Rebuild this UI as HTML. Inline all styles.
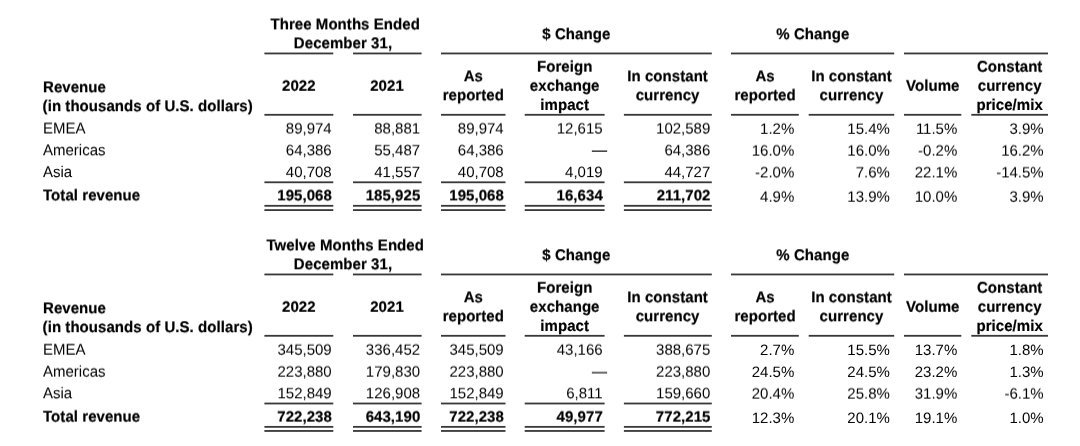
<!DOCTYPE html>
<html lang="en"><head><meta charset="utf-8"><title>Revenue</title>
<style>
html,body{margin:0;padding:0;background:#fff;}
body{width:1080px;height:446px;overflow:hidden;position:relative;
 font-family:"Liberation Sans",Arial,Helvetica,sans-serif;font-size:15px;line-height:20px;color:#000;
 text-rendering:geometricPrecision;}
svg{position:absolute;left:0;top:0;display:block;}
rect{fill:#383838;}
.row{position:absolute;left:0;width:1080px;height:20px;white-space:nowrap;will-change:transform;}
.row span{position:absolute;top:0;height:20px;transform-origin:0 14px;transform:scaleY(1.04);}
.b,.b span{font-weight:bold;-webkit-text-stroke:0.2px #000;letter-spacing:0.06px;}
.row span.n{transform:none;}
.d{-webkit-text-stroke:0.3px #111;color:#111;}
.l{text-align:left;}
.c{width:300px;text-align:center;}
.r{width:300px;text-align:right;}
</style></head><body>
<svg width="1080" height="446" viewBox="0 0 1080 446">
<rect x="264.40" y="52.55" width="68.90" height="1.8"/>
<rect x="353.00" y="52.55" width="68.60" height="1.8"/>
<rect x="441.00" y="52.55" width="270.80" height="1.8"/>
<rect x="731.00" y="52.55" width="163.20" height="1.8"/>
<rect x="904.00" y="52.55" width="144.00" height="1.8"/>
<rect x="264.40" y="113.90" width="68.90" height="1.8"/>
<rect x="353.00" y="113.90" width="68.60" height="1.8"/>
<rect x="441.00" y="113.90" width="64.50" height="1.8"/>
<rect x="524.70" y="113.90" width="79.90" height="1.8"/>
<rect x="623.90" y="113.90" width="87.90" height="1.8"/>
<rect x="731.00" y="113.90" width="67.80" height="1.8"/>
<rect x="808.70" y="113.90" width="85.50" height="1.8"/>
<rect x="904.00" y="113.90" width="57.30" height="1.8"/>
<rect x="971.30" y="113.90" width="76.70" height="1.8"/>
<rect x="264.40" y="181.40" width="68.90" height="1.8"/>
<rect x="264.40" y="204.90" width="68.90" height="1.8"/>
<rect x="264.40" y="209.20" width="68.90" height="1.8"/>
<rect x="353.00" y="181.40" width="68.60" height="1.8"/>
<rect x="353.00" y="204.90" width="68.60" height="1.8"/>
<rect x="353.00" y="209.20" width="68.60" height="1.8"/>
<rect x="441.00" y="181.40" width="64.50" height="1.8"/>
<rect x="441.00" y="204.90" width="64.50" height="1.8"/>
<rect x="441.00" y="209.20" width="64.50" height="1.8"/>
<rect x="524.70" y="181.40" width="79.90" height="1.8"/>
<rect x="524.70" y="204.90" width="79.90" height="1.8"/>
<rect x="524.70" y="209.20" width="79.90" height="1.8"/>
<rect x="623.90" y="181.40" width="87.90" height="1.8"/>
<rect x="623.90" y="204.90" width="87.90" height="1.8"/>
<rect x="623.90" y="209.20" width="87.90" height="1.8"/>
<rect x="264.40" y="273.55" width="68.90" height="1.8"/>
<rect x="353.00" y="273.55" width="68.60" height="1.8"/>
<rect x="441.00" y="273.55" width="270.80" height="1.8"/>
<rect x="731.00" y="273.55" width="163.20" height="1.8"/>
<rect x="904.00" y="273.55" width="144.00" height="1.8"/>
<rect x="264.40" y="334.90" width="68.90" height="1.8"/>
<rect x="353.00" y="334.90" width="68.60" height="1.8"/>
<rect x="441.00" y="334.90" width="64.50" height="1.8"/>
<rect x="524.70" y="334.90" width="79.90" height="1.8"/>
<rect x="623.90" y="334.90" width="87.90" height="1.8"/>
<rect x="731.00" y="334.90" width="67.80" height="1.8"/>
<rect x="808.70" y="334.90" width="85.50" height="1.8"/>
<rect x="904.00" y="334.90" width="57.30" height="1.8"/>
<rect x="971.30" y="334.90" width="76.70" height="1.8"/>
<rect x="264.40" y="402.60" width="68.90" height="1.8"/>
<rect x="264.40" y="425.95" width="68.90" height="1.8"/>
<rect x="264.40" y="430.05" width="68.90" height="1.8"/>
<rect x="353.00" y="402.60" width="68.60" height="1.8"/>
<rect x="353.00" y="425.95" width="68.60" height="1.8"/>
<rect x="353.00" y="430.05" width="68.60" height="1.8"/>
<rect x="441.00" y="402.60" width="64.50" height="1.8"/>
<rect x="441.00" y="425.95" width="64.50" height="1.8"/>
<rect x="441.00" y="430.05" width="64.50" height="1.8"/>
<rect x="524.70" y="402.60" width="79.90" height="1.8"/>
<rect x="524.70" y="425.95" width="79.90" height="1.8"/>
<rect x="524.70" y="430.05" width="79.90" height="1.8"/>
<rect x="623.90" y="402.60" width="87.90" height="1.8"/>
<rect x="623.90" y="425.95" width="87.90" height="1.8"/>
<rect x="623.90" y="430.05" width="87.90" height="1.8"/>
</svg>
<div class="row b" style="top:15px;transform:translateY(0.40px) rotate(.001deg)">
<span class="c" style="left:195.20px">Three Months Ended</span>
</div>
<div class="row b" style="top:25px;transform:translateY(0.20px) rotate(.001deg)">
<span class="c" style="left:426.30px">$ Change</span>
<span class="c" style="left:662.80px">% Change</span>
</div>
<div class="row b" style="top:34px;transform:translateY(0.30px) rotate(.001deg)">
<span class="c" style="left:193.00px">December 31,</span>
</div>
<div class="row b" style="top:57px;transform:translateY(0.70px) rotate(.001deg)">
<span class="c" style="left:414.70px">Foreign</span>
<span class="c" style="left:859.70px">Constant</span>
</div>
<div class="row b" style="top:67px;transform:translateY(0.30px) rotate(.001deg)">
<span class="c" style="left:323.30px">As</span>
<span class="c" style="left:517.60px">In constant</span>
<span class="c" style="left:615.10px">As</span>
<span class="c" style="left:701.50px">In constant</span>
</div>
<div class="row b" style="top:76px;transform:translateY(0.80px) rotate(.001deg)">
<span class="c n" style="left:148.80px">2022</span>
<span class="c n" style="left:237.00px">2021</span>
<span class="c" style="left:414.70px">exchange</span>
<span class="c" style="left:782.80px">Volume</span>
<span class="c" style="left:859.70px">currency</span>
</div>
<div class="row b" style="top:78px;transform:translateY(0.30px) rotate(.001deg)">
<span class="l" style="left:43.00px">Revenue</span>
</div>
<div class="row b" style="top:86px;transform:translateY(0.30px) rotate(.001deg)">
<span class="c" style="left:323.30px">reported</span>
<span class="c" style="left:517.60px">currency</span>
<span class="c" style="left:615.10px">reported</span>
<span class="c" style="left:701.50px">currency</span>
</div>
<div class="row b" style="top:96px;transform:translateY(0.00px) rotate(.001deg)">
<span class="c" style="left:414.70px">impact</span>
<span class="c" style="left:859.70px">price/mix</span>
</div>
<div class="row b" style="top:97px;transform:translateY(0.20px) rotate(.001deg)">
<span class="l" style="left:42.60px">(in thousands of U.S. dollars)</span>
</div>
<div class="row" style="top:119px;transform:translateY(0.50px) rotate(.001deg)">
<span class="l" style="left:43.00px">EMEA</span>
<span class="r n" style="left:31.70px">89,974</span>
<span class="r n" style="left:120.10px">88,881</span>
<span class="r n" style="left:203.70px">89,974</span>
<span class="r n" style="left:302.60px">12,615</span>
<span class="r n" style="left:410.30px">102,589</span>
</div>
<div class="row" style="top:119px;transform:translateY(0.80px) rotate(.001deg)">
<span class="r n" style="left:494.30px">1.2%</span>
<span class="r n" style="left:589.90px">15.4%</span>
<span class="r n" style="left:657.30px">11.5%</span>
<span class="r n" style="left:743.70px">3.9%</span>
</div>
<div class="row" style="top:141px;transform:translateY(0.00px) rotate(.001deg)">
<span class="r d n" style="left:307.10px">—</span>
</div>
<div class="row" style="top:141px;transform:translateY(0.30px) rotate(.001deg)">
<span class="l" style="left:43.00px">Americas</span>
<span class="r n" style="left:31.70px">64,386</span>
<span class="r n" style="left:120.10px">55,487</span>
<span class="r n" style="left:203.70px">64,386</span>
<span class="r n" style="left:410.30px">64,386</span>
</div>
<div class="row" style="top:141px;transform:translateY(0.60px) rotate(.001deg)">
<span class="r n" style="left:494.30px">16.0%</span>
<span class="r n" style="left:589.90px">16.0%</span>
<span class="r n" style="left:657.30px">-0.2%</span>
<span class="r n" style="left:743.70px">16.2%</span>
</div>
<div class="row" style="top:163px;transform:translateY(0.10px) rotate(.001deg)">
<span class="l" style="left:43.00px">Asia</span>
<span class="r n" style="left:31.70px">40,708</span>
<span class="r n" style="left:120.10px">41,557</span>
<span class="r n" style="left:203.70px">40,708</span>
<span class="r n" style="left:302.60px">4,019</span>
<span class="r n" style="left:410.30px">44,727</span>
</div>
<div class="row" style="top:163px;transform:translateY(0.40px) rotate(.001deg)">
<span class="r n" style="left:494.30px">-2.0%</span>
<span class="r n" style="left:589.90px">7.6%</span>
<span class="r n" style="left:657.30px">22.1%</span>
<span class="r n" style="left:743.70px">-14.5%</span>
</div>
<div class="row b" style="top:186px;transform:translateY(0.40px) rotate(.001deg)">
<span class="l" style="left:43.00px">Total revenue</span>
<span class="r n" style="left:31.90px">195,068</span>
<span class="r n" style="left:120.30px">185,925</span>
<span class="r n" style="left:203.90px">195,068</span>
<span class="r n" style="left:302.80px">16,634</span>
<span class="r n" style="left:410.50px">211,702</span>
</div>
<div class="row" style="top:187px;transform:translateY(0.70px) rotate(.001deg)">
<span class="r n" style="left:494.30px">4.9%</span>
<span class="r n" style="left:589.90px">13.9%</span>
<span class="r n" style="left:657.30px">10.0%</span>
<span class="r n" style="left:743.70px">3.9%</span>
</div>
<div class="row b" style="top:236px;transform:translateY(0.40px) rotate(.001deg)">
<span class="c" style="left:195.20px">Twelve Months Ended</span>
</div>
<div class="row b" style="top:246px;transform:translateY(0.20px) rotate(.001deg)">
<span class="c" style="left:426.30px">$ Change</span>
<span class="c" style="left:662.80px">% Change</span>
</div>
<div class="row b" style="top:255px;transform:translateY(0.30px) rotate(.001deg)">
<span class="c" style="left:193.00px">December 31,</span>
</div>
<div class="row b" style="top:278px;transform:translateY(0.70px) rotate(.001deg)">
<span class="c" style="left:414.70px">Foreign</span>
<span class="c" style="left:859.70px">Constant</span>
</div>
<div class="row b" style="top:288px;transform:translateY(0.30px) rotate(.001deg)">
<span class="c" style="left:323.30px">As</span>
<span class="c" style="left:517.60px">In constant</span>
<span class="c" style="left:615.10px">As</span>
<span class="c" style="left:701.50px">In constant</span>
</div>
<div class="row b" style="top:297px;transform:translateY(0.80px) rotate(.001deg)">
<span class="c n" style="left:148.80px">2022</span>
<span class="c n" style="left:237.00px">2021</span>
<span class="c" style="left:414.70px">exchange</span>
<span class="c" style="left:782.80px">Volume</span>
<span class="c" style="left:859.70px">currency</span>
</div>
<div class="row b" style="top:299px;transform:translateY(0.30px) rotate(.001deg)">
<span class="l" style="left:43.00px">Revenue</span>
</div>
<div class="row b" style="top:307px;transform:translateY(0.30px) rotate(.001deg)">
<span class="c" style="left:323.30px">reported</span>
<span class="c" style="left:517.60px">currency</span>
<span class="c" style="left:615.10px">reported</span>
<span class="c" style="left:701.50px">currency</span>
</div>
<div class="row b" style="top:317px;transform:translateY(0.00px) rotate(.001deg)">
<span class="c" style="left:414.70px">impact</span>
<span class="c" style="left:859.70px">price/mix</span>
</div>
<div class="row b" style="top:318px;transform:translateY(0.20px) rotate(.001deg)">
<span class="l" style="left:42.60px">(in thousands of U.S. dollars)</span>
</div>
<div class="row" style="top:340px;transform:translateY(0.70px) rotate(.001deg)">
<span class="l" style="left:43.00px">EMEA</span>
<span class="r n" style="left:31.70px">345,509</span>
<span class="r n" style="left:120.10px">336,452</span>
<span class="r n" style="left:203.70px">345,509</span>
<span class="r n" style="left:302.60px">43,166</span>
<span class="r n" style="left:410.30px">388,675</span>
</div>
<div class="row" style="top:341px;transform:translateY(0.00px) rotate(.001deg)">
<span class="r n" style="left:494.30px">2.7%</span>
<span class="r n" style="left:589.90px">15.5%</span>
<span class="r n" style="left:657.30px">13.7%</span>
<span class="r n" style="left:743.70px">1.8%</span>
</div>
<div class="row" style="top:362px;transform:translateY(0.55px) rotate(.001deg)">
<span class="r d n" style="left:307.10px">—</span>
</div>
<div class="row" style="top:362px;transform:translateY(0.65px) rotate(.001deg)">
<span class="l" style="left:43.00px">Americas</span>
<span class="r n" style="left:31.70px">223,880</span>
<span class="r n" style="left:120.10px">179,830</span>
<span class="r n" style="left:203.70px">223,880</span>
<span class="r n" style="left:410.30px">223,880</span>
</div>
<div class="row" style="top:362px;transform:translateY(0.95px) rotate(.001deg)">
<span class="r n" style="left:494.30px">24.5%</span>
<span class="r n" style="left:589.90px">24.5%</span>
<span class="r n" style="left:657.30px">23.2%</span>
<span class="r n" style="left:743.70px">1.3%</span>
</div>
<div class="row" style="top:384px;transform:translateY(0.30px) rotate(.001deg)">
<span class="l" style="left:43.00px">Asia</span>
<span class="r n" style="left:31.70px">152,849</span>
<span class="r n" style="left:120.10px">126,908</span>
<span class="r n" style="left:203.70px">152,849</span>
<span class="r n" style="left:302.60px">6,811</span>
<span class="r n" style="left:410.30px">159,660</span>
</div>
<div class="row" style="top:384px;transform:translateY(0.60px) rotate(.001deg)">
<span class="r n" style="left:494.30px">20.4%</span>
<span class="r n" style="left:589.90px">25.8%</span>
<span class="r n" style="left:657.30px">31.9%</span>
<span class="r n" style="left:743.70px">-6.1%</span>
</div>
<div class="row b" style="top:407px;transform:translateY(0.65px) rotate(.001deg)">
<span class="l" style="left:43.00px">Total revenue</span>
<span class="r n" style="left:31.90px">722,238</span>
<span class="r n" style="left:120.30px">643,190</span>
<span class="r n" style="left:203.90px">722,238</span>
<span class="r n" style="left:302.80px">49,977</span>
<span class="r n" style="left:410.50px">772,215</span>
</div>
<div class="row" style="top:408px;transform:translateY(0.95px) rotate(.001deg)">
<span class="r n" style="left:494.30px">12.3%</span>
<span class="r n" style="left:589.90px">20.1%</span>
<span class="r n" style="left:657.30px">19.1%</span>
<span class="r n" style="left:743.70px">1.0%</span>
</div>
</body></html>
